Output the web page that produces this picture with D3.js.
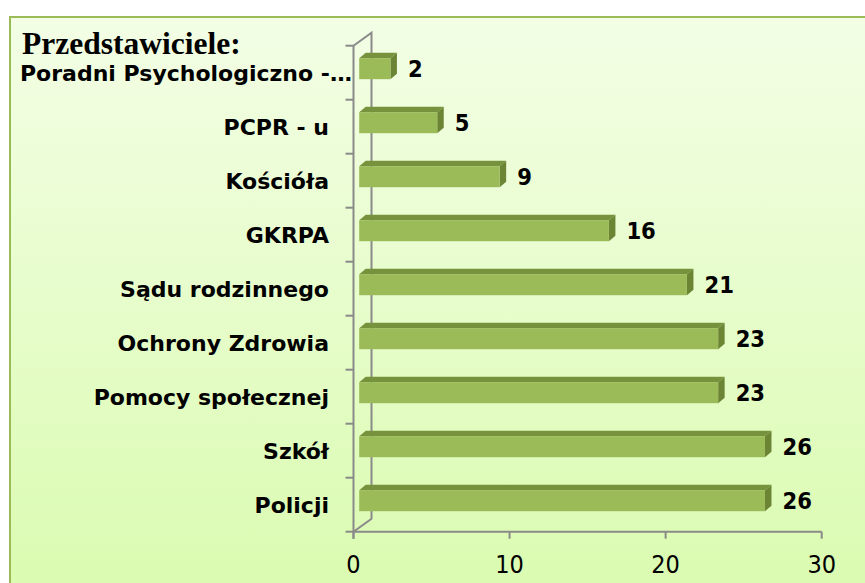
<!DOCTYPE html>
<html>
<head>
<meta charset="utf-8">
<title>Przedstawiciele</title>
<script src="https://cdn.jsdelivr.net/npm/d3@7"></script>
<style>
html, body { margin:0; padding:0; overflow:hidden; background:#ffffff; }
svg { display:block; }
.num { font-family: "DejaVu Sans Condensed", "DejaVu Sans", sans-serif; font-stretch: condensed; }
.cat { font-family: "DejaVu Sans", sans-serif; }
</style>
</head>
<body>
<svg id="stage" width="865" height="583"></svg>
<script>
// data, top row first
var categories = ["Poradni Psychologiczno -\u2026", "PCPR - u", "Kościóła", "GKRPA",
                  "Sądu rodzinnego", "Ochrony Zdrowia", "Pomocy społecznej", "Szkół", "Policji"];
var values = [2, 5, 9, 16, 21, 23, 23, 26, 26];
var xTicks = [0, 10, 20, 30];
var title = "Przedstawiciele:";

var svg = d3.select("#stage");

// background panel
var defs = svg.append("defs");
var grad = defs.append("linearGradient").attr("id", "bg")
  .attr("x1", 0).attr("y1", 0).attr("x2", 0).attr("y2", 1);
grad.append("stop").attr("offset", "0%").attr("stop-color", "#f3fee5");
grad.append("stop").attr("offset", "100%").attr("stop-color", "#d9fbae");

svg.append("rect")
  .attr("x", 10).attr("y", 17)
  .attr("width", 870).attr("height", 600)
  .attr("fill", "url(#bg)")
  .attr("stroke", "#9bbb59").attr("stroke-width", 2);

var x = d3.scaleLinear().domain([0, 30]).range([353.5, 821.7]);
var y = d3.scaleBand().domain(categories).range([45.7, 531.7]);

// 3d depth of the wall and of the bars
var wallDx = 18, wallDy = -13;
var faceDx = 5.7, faceDy = -4;
var barDx = 6.5, barDy = -5.5;
var barH = 21;

var axisColor = "#8a8a8a";
var g = svg.append("g");

// back wall edge + connecting lines
var y0 = y.range()[0], y1 = y.range()[1];
var x0 = x(0);
g.append("path")
  .attr("d", "M" + x0 + "," + y0 + "L" + (x0 + wallDx) + "," + (y0 + wallDy) +
             "L" + (x0 + wallDx) + "," + (y1 + wallDy) + "L" + x0 + "," + y1)
  .attr("fill", "none").attr("stroke", axisColor).attr("stroke-width", 2);

// front vertical axis
g.append("line")
  .attr("x1", x0).attr("x2", x0).attr("y1", y0).attr("y2", y1 + 7)
  .attr("stroke", axisColor).attr("stroke-width", 2);

// category ticks (band boundaries)
var bounds = categories.map(function(c) { return y(c); }).concat([y1]);
g.selectAll(".ytick").data(bounds).enter().append("line")
  .attr("x1", x0 - 8).attr("x2", x0)
  .attr("y1", function(d) { return d; }).attr("y2", function(d) { return d; })
  .attr("stroke", axisColor).attr("stroke-width", 2);

// horizontal axis
g.append("line")
  .attr("x1", x0).attr("x2", x(30)).attr("y1", y1).attr("y2", y1)
  .attr("stroke", axisColor).attr("stroke-width", 2);
g.selectAll(".xtick").data(xTicks).enter().append("line")
  .attr("x1", function(d) { return x(d); }).attr("x2", function(d) { return x(d); })
  .attr("y1", y1).attr("y2", y1 + 7)
  .attr("stroke", axisColor).attr("stroke-width", 2);

g.selectAll(".xlab").data(xTicks).enter().append("text")
  .attr("class", "num")
  .attr("x", function(d) { return x(d); })
  .attr("y", 573)
  .attr("text-anchor", "middle")
  .attr("font-size", 25)
  .attr("fill", "#000")
  .text(function(d) { return d; });

// bars
var rows = categories.map(function(c, i) { return { cat: c, v: values[i] }; });
var bars = g.selectAll(".bar").data(rows).enter().append("g");

function faceTop(d) { return y(d.cat) + y.bandwidth() / 2 + faceDy - barH / 2; }

bars.append("path") // top face
  .attr("d", function(d) {
    var l = x(0) + faceDx, r = x(d.v) + faceDx, t = faceTop(d);
    return "M" + l + "," + t + "L" + (l + barDx) + "," + (t + barDy) +
           "L" + (r + barDx) + "," + (t + barDy) + "L" + r + "," + t + "Z";
  })
  .attr("fill", "#77923c");

bars.append("path") // side face
  .attr("d", function(d) {
    var r = x(d.v) + faceDx, t = faceTop(d);
    return "M" + r + "," + t + "L" + (r + barDx) + "," + (t + barDy) +
           "L" + (r + barDx) + "," + (t + barDy + barH) + "L" + r + "," + (t + barH) + "Z";
  })
  .attr("fill", "#6b8535");

bars.append("rect") // front face
  .attr("x", x(0) + faceDx)
  .attr("y", faceTop)
  .attr("width", function(d) { return x(d.v) - x(0); })
  .attr("height", barH)
  .attr("fill", "#9bbb59");

// value labels
bars.append("text")
  .attr("class", "num")
  .attr("x", function(d) { return x(d.v) + faceDx + barDx + 11; })
  .attr("y", function(d) { return faceTop(d) + barH / 2; })
  .attr("dy", "0.36em")
  .attr("font-size", 23.5)
  .attr("font-weight", "bold")
  .attr("fill", "#000")
  .text(function(d) { return d.v; });

// category labels; the long first one runs past the others like in excel
g.selectAll(".ylab").data(categories).enter().append("text")
  .attr("class", "cat")
  .attr("x", function(d, i) { return i === 0 ? 20 : 329; })
  .attr("y", function(d) { return y(d) + y.bandwidth() / 2; })
  .attr("dy", "0.37em")
  .attr("text-anchor", function(d, i) { return i === 0 ? "start" : "end"; })
  .attr("font-size", 22)
  .attr("font-weight", "bold")
  .attr("fill", "#000")
  .text(function(d) { return d; });

// title
svg.append("text")
  .attr("x", 22).attr("y", 54)
  .attr("font-family", "'Liberation Serif', 'Times New Roman', serif")
  .attr("font-size", 31.5)
  .attr("font-weight", "bold")
  .attr("fill", "#000")
  .text(title);
</script>
</body>
</html>
